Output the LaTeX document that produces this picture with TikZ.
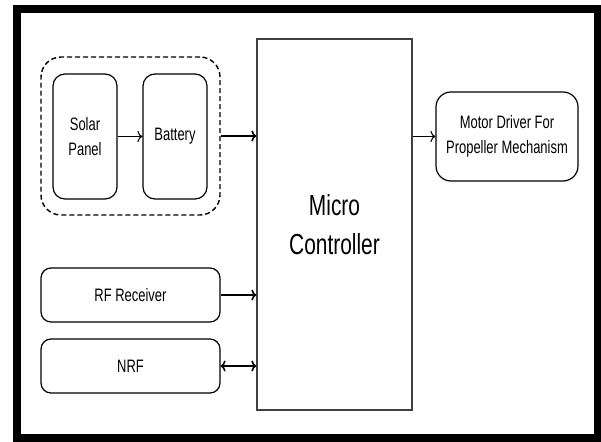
\documentclass[tikz,border=0pt]{standalone}
\usepackage{fontspec}
\setmainfont{Liberation Sans}[FakeStretch=0.72]
\usepackage{tikz}
\usetikzlibrary{arrows.meta}

\begin{document}
\begin{tikzpicture}[
   x=1pt,y=-1pt,
   font=\fontsize{18}{25}\selectfont,
   block/.style={draw,line width=1.2pt,rounded corners=12pt,align=center,inner sep=0pt},
   group/.style={draw,line width=1.4pt,dash pattern=on 5pt off 3pt,rounded corners=20pt,inner sep=0pt},
   mcu/.style={draw=black!75,line width=1.3pt,align=center,inner sep=0pt,
      font=\fontsize{29}{39}\selectfont},
   link/.style={-{To[length=5pt,width=11pt]},line width=1.6pt},
   thinlink/.style={-{To[length=5pt,width=11pt]},line width=1.1pt}]
\useasboundingbox (0,0) rectangle (601,441);
\draw[line width=8pt] (17,9) rectangle (598,437.5);
% power supply
\node[block,minimum width=64,minimum height=125] (solar) at (85,136.5) {Solar\\Panel};
\node[block,minimum width=64,minimum height=125] (battery) at (175,136.5) {Battery};
\node[group,minimum width=179,minimum height=158] (power) at (130.5,136) {};
% controller and peripherals
\node[mcu,minimum width=155,minimum height=371] (micro) at (334.5,224.5) {Micro\\Controller};
\node[block,rounded corners=15pt,minimum width=142,minimum height=89] (motor) at (507,136.5) {Motor Driver For\\Propeller Mechanism};
\node[block,rounded corners=10pt,minimum width=179,minimum height=54] (rf) at (130.5,295) {RF Receiver};
\node[block,rounded corners=10pt,minimum width=179,minimum height=54] (nrf) at (130.5,366) {NRF};
\draw[thinlink] (solar) -- (battery);
\draw[link] (power.east) -- (power.east -| micro.west);
\draw[thinlink] (motor.west -| micro.east) -- (motor.west);
\draw[link] (rf.east) -- (rf.east -| micro.west);
\draw[link,{To[length=5pt,width=11pt]}-{To[length=5pt,width=11pt]}] (nrf.east) -- (nrf.east -| micro.west);
\end{tikzpicture}
\end{document}
